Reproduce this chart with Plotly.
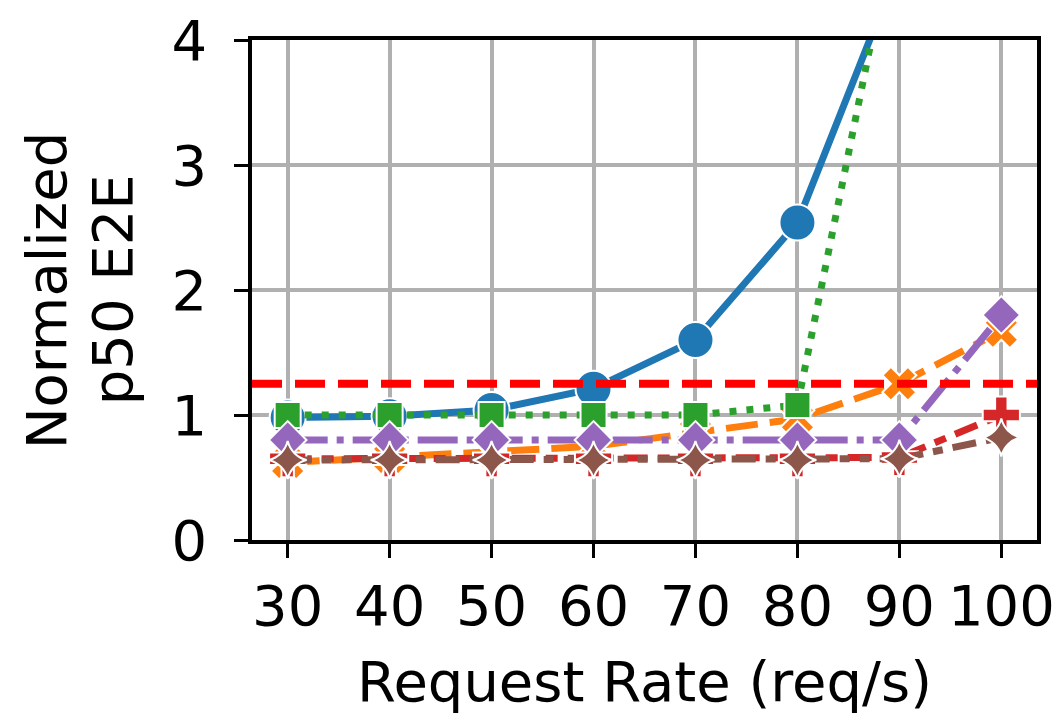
import plotly.graph_objects as go

# ---- data ----
rates = [30, 40, 50, 60, 70, 80, 90, 100]
series_a = [0.98, 0.99, 1.04, 1.21, 1.60, 2.54, 4.60, None]   # blue, solid, circle
series_b = [0.62, 0.66, 0.71, 0.75, 0.86, 0.97, 1.25, 1.67]   # orange, dashed, X
series_c = [1.00, 1.00, 1.00, 1.00, 1.00, 1.08, 5.10, None]   # green, dotted, square
series_d = [0.65, 0.65, 0.65, 0.65, 0.65, 0.65, 0.66, 1.00]   # red, dash-dot, plus
series_e = [0.80, 0.80, 0.80, 0.80, 0.80, 0.80, 0.80, 1.80]   # purple, dash-dot, diamond
series_f = [0.64, 0.64, 0.64, 0.64, 0.64, 0.64, 0.65, 0.82]   # brown, dashes, 4-point star
slo_value = 1.25
x_ticks = [30, 40, 50, 60, 70, 80, 90, 100]
y_ticks = [0, 1, 2, 3, 4]

FONT = "DejaVu Sans"
FS = 56
LW = 7

styles = [
    (series_a, "#1f77b4", "solid", "circle", 36),
    (series_b, "#ff7f0e", "32px,12px", "x", 30),
    (series_c, "#2ca02c", "7px,10px", "square", 26),
    (series_d, "#d62728", "24px,10px,12px,10px", "cross", 31),
    (series_e, "#9467bd", "40px,9px,7px,9px", "diamond", 29),
    (series_f, "#8c564b", "24px,10px,10px,10px,10px,10px", "star-diamond", 27),
]

fig = go.Figure()
for vals, color, dash, sym, size in styles:
    fig.add_trace(go.Scatter(
        x=rates, y=vals, mode="lines+markers",
        line=dict(color=color, width=LW, dash=dash),
        marker=dict(symbol=sym, size=size, color=color,
                    line=dict(color="white", width=2)),
        showlegend=False, connectgaps=False,
    ))

fig.add_shape(type="line", xref="paper", x0=0, x1=1, yref="y",
              y0=slo_value, y1=slo_value, layer="above",
              line=dict(color="#ff0000", width=8, dash="30px,13px"))

fig.update_layout(
    width=1060, height=721,
    margin=dict(l=252, r=23, t=40, b=181, autoexpand=False),
    paper_bgcolor="white", plot_bgcolor="white",
    font=dict(family=FONT, size=FS, color="black"),
)
fig.update_xaxes(
    range=[26.5, 103.5], tickvals=x_ticks, ticktext=[str(v) for v in x_ticks],
    showgrid=True, gridcolor="#b0b0b0", gridwidth=3.5,
    showline=True, linecolor="black", linewidth=3.5, mirror=True,
    ticks="outside", ticklen=14, tickwidth=3, tickcolor="black",
    zeroline=False, automargin=False,
    title=dict(text="Request Rate (req/s)", font=dict(size=FS), standoff=26),
)
fig.update_yaxes(
    range=[0, 4], tickvals=y_ticks, ticktext=[str(v) for v in y_ticks],
    showgrid=True, gridcolor="#b0b0b0", gridwidth=3.5,
    showline=True, linecolor="black", linewidth=3.5, mirror=True,
    ticks="outside", ticklen=14, tickwidth=3, tickcolor="black",
    zeroline=False, automargin=False, ticklabelstandoff=16,
)
fig.add_annotation(text="Normalized", xref="paper", yref="paper",
                   x=-0.262, y=0.5, textangle=-90, showarrow=False,
                   font=dict(size=FS), xanchor="center", yanchor="middle")
fig.add_annotation(text="p50 E2E", xref="paper", yref="paper",
                   x=-0.178, y=0.5, textangle=-90, showarrow=False,
                   font=dict(size=FS), xanchor="center", yanchor="middle")

fig.write_html("out.html")
